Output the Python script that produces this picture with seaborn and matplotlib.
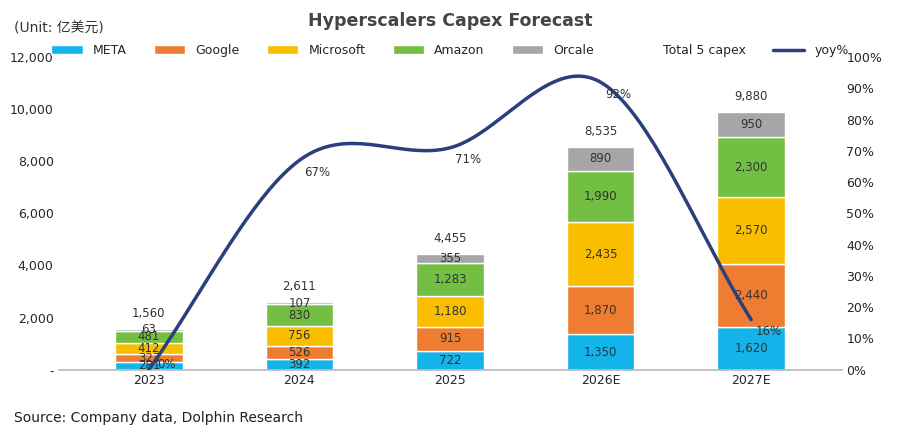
import numpy as np
import matplotlib.pyplot as plt
import seaborn as sns

years = ['2023', '2024', '2025', '2026E', '2027E']
meta = [281, 392, 722, 1350, 1620]
google = [323, 526, 915, 1870, 2440]
microsoft = [412, 756, 1180, 2435, 2570]
amazon = [481, 830, 1283, 1990, 2300]
oracle = [63, 107, 355, 890, 950]
yoy = [0, 67, 71, 92, 16]

series = [('META', meta, '#13b4ea'), ('Google', google, '#ef7d31'),
          ('Microsoft', microsoft, '#f9be00'), ('Amazon', amazon, '#72bf44'),
          ('Orcale', oracle, '#a6a6a6')]

sns.set_theme(style='white')
plt.rcParams['font.family'] = ['DejaVu Sans', 'Noto Sans CJK SC']

fig, ax = plt.subplots(figsize=(9, 4.4), dpi=100)
x = np.arange(len(years))
bottom = np.zeros(len(years))
for name, vals, col in series:
    ax.bar(x, vals, 0.45, bottom=bottom, color=col, label=name)
    for xi, b, v in zip(x, bottom, vals):
        ax.text(xi, b + v / 2, f'{v:,}', ha='center', va='center', fontsize=8.5, color='#333333')
    bottom += np.array(vals)
for xi, t in zip(x, bottom):
    ax.text(xi, t + 350, f'{int(t):,}', ha='center', va='bottom', fontsize=8.5, color='#333333')
ax.bar([0], [0], color='white', label='Total 5 capex')

ax.set_ylim(0, 12000)
ax.set_yticks(range(0, 12001, 2000))
ax.set_yticklabels(['-'] + [f'{v:,}' for v in range(2000, 12001, 2000)], fontsize=9)
ax.set_xticks(x)
ax.set_xticklabels(years, fontsize=9)
ax.set_xlim(-0.6, 4.6)
ax.tick_params(length=0)
for s in ['top', 'right', 'left']:
    ax.spines[s].set_visible(False)
ax.spines['bottom'].set_color('#bbbbbb')

ax2 = ax.twinx()
# smooth curve through the yoy points (Catmull-Rom)
p = np.array(yoy, dtype=float)
pts = np.concatenate([[2 * p[0] - p[1]], p, [2 * p[-1] - p[-2]]])
xs, ys = [], []
for i in range(len(p) - 1):
    t = np.linspace(0, 1, 40)
    p0, p1, p2, p3 = pts[i:i + 4]
    y = 0.5 * (2 * p1 + (-p0 + p2) * t + (2 * p0 - 5 * p1 + 4 * p2 - p3) * t ** 2 + (-p0 + 3 * p1 - 3 * p2 + p3) * t ** 3)
    xs.extend(i + t)
    ys.extend(y)
ax2.plot(xs, ys, color='#2b3f7f', lw=2.5, label='yoy%')
for xi, v in zip(x, yoy):
    ax2.text(xi + 0.12, max(v - 5, 0.5), f'{v}%', fontsize=8.5, color='#333333', ha='center')
ax2.set_ylim(0, 100)
ax2.set_yticks(range(0, 101, 10))
ax2.set_yticklabels([f'{v}%' for v in range(0, 101, 10)], fontsize=9)
ax2.tick_params(length=0)
for s in ['top', 'right', 'left', 'bottom']:
    ax2.spines[s].set_visible(False)

h1, l1 = ax.get_legend_handles_labels()
h2, l2 = ax2.get_legend_handles_labels()
fig.legend(h1 + h2, l1 + l2, loc='upper center', bbox_to_anchor=(0.5, 0.925), ncol=7,
           frameon=False, fontsize=9, handlelength=2.5, columnspacing=2.2)

fig.text(0.5, 0.94, 'Hyperscalers Capex Forecast', ha='center', fontsize=12.5, fontweight='bold', color='#444444')
fig.text(0.015, 0.925, '(Unit: 亿美元)', fontsize=10, color='#333333')
fig.text(0.015, 0.04, 'Source: Company data, Dolphin Research', fontsize=10, color='#222222')
fig.subplots_adjust(left=0.065, right=0.935, top=0.87, bottom=0.16)
fig.savefig('out.png')
